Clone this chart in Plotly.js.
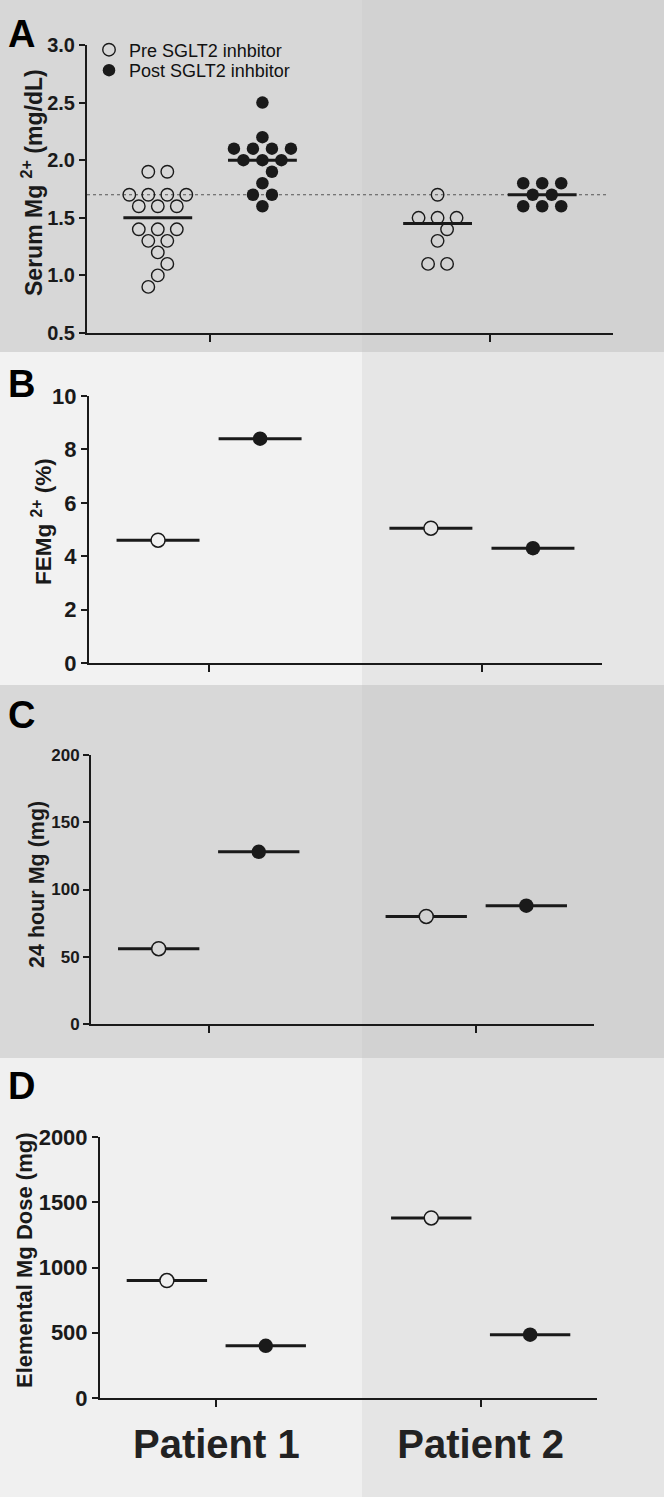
<!DOCTYPE html>
<html>
<head>
<meta charset="utf-8">
<script src="https://cdn.plot.ly/plotly-3.0.1.min.js"></script>
<style>html,body{margin:0;padding:0;background:#fff;}#chart{width:664px;height:1497px;}</style>
</head>
<body>
<div id="chart"></div>
<script>
// ---------------- DATA ----------------
const patients = ['Patient 1', 'Patient 2'];
const groupNames = ['Pre SGLT2 inhbitor', 'Post SGLT2 inhbitor'];

// Panel A: serum Mg2+ (mg/dL), individual measurements
const serumPreP1  = [1.9, 1.9, 1.7, 1.7, 1.7, 1.7, 1.6, 1.6, 1.6, 1.4, 1.4, 1.4, 1.3, 1.3, 1.2, 1.1, 1.0, 0.9];
const serumPostP1 = [2.5, 2.2, 2.1, 2.1, 2.1, 2.1, 2.0, 2.0, 2.0, 1.9, 1.8, 1.7, 1.7, 1.6];
const serumPreP2  = [1.7, 1.5, 1.5, 1.5, 1.4, 1.3, 1.1, 1.1];
const serumPostP2 = [1.8, 1.8, 1.8, 1.7, 1.7, 1.6, 1.6, 1.6];
const serumLowerLimit = 1.7;

// Panel B: FEMg2+ (%)  [Patient 1, Patient 2]
const femgPre  = [4.6, 5.05];
const femgPost = [8.4, 4.3];

// Panel C: 24 hour urine Mg (mg)
const urineMgPre  = [56, 80];
const urineMgPost = [128, 88];

// Panel D: elemental Mg dose (mg)
const doseMgPre  = [900, 1380];
const doseMgPost = [400, 485];

// Axis tick values
const ticksA = [0.5, 1.0, 1.5, 2.0, 2.5, 3.0];
const ticksB = [0, 2, 4, 6, 8, 10];
const ticksC = [0, 50, 100, 150, 200];
const ticksD = [0, 500, 1000, 1500, 2000];

// ---------------- LAYOUT HELPERS ----------------
const W = 664, H = 1497;
const px = v => v / W;
const py = v => 1 - v / H;
const XR = [0.56, 2.44];
const GROUP_OFF = 0.187;
const INK = '#1a1a1a';
const FONT = 'Liberation Sans, Arial, Helvetica, sans-serif';

const panels = [
  {id: '',  xd: [87, 613],  yd: [333, 45],    yr: [0.5, 3.0], tick: ticksA, tfs: 20, fmt: '.1f', half: 0.123},
  {id: '2', xd: [89, 602],  yd: [663, 396],   yr: [0, 10],    tick: ticksB, tfs: 22, fmt: '',    half: 0.152},
  {id: '3', xd: [91, 594],  yd: [1024, 755],  yr: [0, 200],   tick: ticksC, tfs: 17, fmt: '',    half: 0.152},
  {id: '4', xd: [100, 597], yd: [1398, 1137], yr: [0, 2000],  tick: ticksD, tfs: 22, fmt: '',    half: 0.152}
];

function median(a) {
  const s = a.slice().sort((p, q) => p - q), n = s.length;
  return n % 2 ? s[(n - 1) / 2] : (s[n / 2 - 1] + s[n / 2]) / 2;
}

// Simple column-scatter (beeswarm-like) layout of one group's points
function swarm(values, center, pxPerX, pxPerY, diam, step) {
  const rows = new Map();
  values.forEach(v => { const k = Math.round(v * 1000) / 1000; rows.set(k, (rows.get(k) || 0) + 1); });
  const keys = Array.from(rows.keys()).sort((a, b) => b - a);
  const placed = [], xs = [], ys = [];
  let flip = 1;
  keys.forEach(k => {
    const n = rows.get(k);
    let offs = Array.from({length: n}, (_, i) => (i - (n - 1) / 2) * step);
    const hits = arr => arr.some(o => placed.some(p => Math.hypot(o - p.o, (k - p.v) * pxPerY) < diam));
    if (hits(offs)) {
      const a = offs.map(o => o + flip * step / 2), b = offs.map(o => o - flip * step / 2);
      offs = !hits(a) ? a : b;
      flip = -flip;
    }
    offs.forEach(o => { placed.push({o: o, v: k}); xs.push(center + o / pxPerX); ys.push(k); });
  });
  return {xs: xs, ys: ys};
}

const traces = [];
function lineTrace(p, meds, centers) {
  const x = [], y = [];
  meds.forEach((m, i) => { x.push(centers[i] - p.half, centers[i] + p.half, null); y.push(m, m, null); });
  return {type: 'scatter', mode: 'lines', x: x, y: y, xaxis: 'x' + p.id, yaxis: 'y' + p.id,
          line: {color: INK, width: 3}, showlegend: false, hoverinfo: 'skip'};
}

// ---- Panel A ----
(function () {
  const p = panels[0];
  const pxPerX = (p.xd[1] - p.xd[0]) / (XR[1] - XR[0]);
  const pxPerY = (p.yd[0] - p.yd[1]) / (p.yr[1] - p.yr[0]);
  const sets = [[serumPreP1, serumPreP2], [serumPostP1, serumPostP2]];
  sets.forEach((grp, g) => {
    const centers = [1 + (g ? GROUP_OFF : -GROUP_OFF), 2 + (g ? GROUP_OFF : -GROUP_OFF)];
    traces.push(lineTrace(p, grp.map(median), centers));
  });
  sets.forEach((grp, g) => {
    const X = [], Y = [];
    grp.forEach((vals, i) => {
      const c = (i + 1) + (g ? GROUP_OFF : -GROUP_OFF);
      const s = swarm(vals, c, pxPerX, pxPerY, 12, 19);
      X.push(...s.xs); Y.push(...s.ys);
    });
    traces.push({type: 'scatter', mode: 'markers', x: X, y: Y, xaxis: 'x', yaxis: 'y',
      name: groupNames[g], legend: g ? 'legend2' : 'legend', showlegend: true,
      marker: g ? {symbol: 'circle', size: 12.5, color: INK}
                : {symbol: 'circle-open', size: 12.5, color: INK, line: {width: 1.4}}});
  });
})();

// ---- Panels B, C, D ----
const bgLeft  = ['#f2f2f2', '#d8d8d8', '#f0f0f0'];
const bgRight = ['#e6e6e6', '#d2d2d2', '#e5e5e5'];
[[femgPre, femgPost], [urineMgPre, urineMgPost], [doseMgPre, doseMgPost]].forEach((pair, k) => {
  const p = panels[k + 1];
  pair.forEach((vals, g) => {
    const centers = patients.map((_, i) => (i + 1) + (g ? GROUP_OFF : -GROUP_OFF));
    traces.push(lineTrace(p, vals, centers));
  });
  pair.forEach((vals, g) => {
    const centers = patients.map((_, i) => (i + 1) + (g ? GROUP_OFF : -GROUP_OFF));
    traces.push({type: 'scatter', mode: 'markers', x: centers, y: vals,
      xaxis: 'x' + p.id, yaxis: 'y' + p.id, showlegend: false, name: groupNames[g],
      marker: g ? {symbol: 'circle', size: 14.5, color: INK}
                : {symbol: 'circle', size: 14, color: [bgLeft[k], bgRight[k]], line: {width: 1.5, color: INK}}});
  });
});

// ---------------- AXES ----------------
const layout = {
  width: W, height: H, margin: {l: 0, r: 0, t: 0, b: 0},
  paper_bgcolor: '#ffffff', plot_bgcolor: 'rgba(0,0,0,0)',
  font: {family: FONT, color: INK},
  legend:  {x: px(89), y: py(50), xanchor: 'left', yanchor: 'middle', bgcolor: 'rgba(0,0,0,0)',
            font: {family: FONT, size: 18, color: '#111'}, borderwidth: 0},
  legend2: {x: px(89), y: py(70.5), xanchor: 'left', yanchor: 'middle', bgcolor: 'rgba(0,0,0,0)',
            font: {family: FONT, size: 18, color: '#111'}, borderwidth: 0},
  shapes: [], annotations: []
};

panels.forEach((p, i) => {
  const isLast = i === panels.length - 1;
  layout['xaxis' + p.id] = {
    domain: [px(p.xd[0]), px(p.xd[1])], range: XR, anchor: 'y' + p.id,
    tickmode: 'array', tickvals: [1, 2], ticktext: patients,
    showticklabels: isLast, ticks: 'outside', ticklen: 7, tickwidth: 2, tickcolor: INK,
    showline: true, linewidth: 2, linecolor: INK, showgrid: false, zeroline: false,
    tickfont: {family: FONT, size: 40, weight: 'bold', color: '#222'}, ticklabelstandoff: 3,
    fixedrange: true
  };
  layout['yaxis' + p.id] = {
    domain: [py(p.yd[0]), py(p.yd[1])], range: p.yr, anchor: 'x' + p.id,
    tickmode: 'array', tickvals: p.tick, tickformat: p.fmt,
    ticks: 'outside', ticklen: 6, tickwidth: 2, tickcolor: INK,
    showline: true, linewidth: 2, linecolor: INK, showgrid: false, zeroline: false,
    tickfont: {family: FONT, size: p.tfs, weight: 'bold', color: INK}, fixedrange: true
  };
});

// Panel backgrounds
const bands = [
  {y0: 0,    y1: 352,  l: '#d7d7d7', r: '#d2d2d2'},
  {y0: 352,  y1: 685,  l: '#f2f2f2', r: '#e6e6e6'},
  {y0: 685,  y1: 1058, l: '#d8d8d8', r: '#d2d2d2'},
  {y0: 1058, y1: 1497, l: '#f0f0f0', r: '#e5e5e5'}
];
bands.forEach(b => {
  layout.shapes.push({type: 'rect', xref: 'paper', yref: 'paper', x0: 0, x1: px(362), y0: py(b.y1), y1: py(b.y0),
                      fillcolor: b.l, line: {width: 0}, layer: 'below'});
  layout.shapes.push({type: 'rect', xref: 'paper', yref: 'paper', x0: px(362), x1: 1, y0: py(b.y1), y1: py(b.y0),
                      fillcolor: b.r, line: {width: 0}, layer: 'below'});
});
// Reference line (lower limit of normal serum Mg)
layout.shapes.push({type: 'line', xref: 'x domain', yref: 'y', x0: 0, x1: 0.99, y0: serumLowerLimit, y1: serumLowerLimit,
                    line: {color: '#555', width: 1.2, dash: 'dot'}, layer: 'below'});

// Panel letters
[['A', 34], ['B', 384], ['C', 715], ['D', 1086]].forEach(([t, y]) => {
  layout.annotations.push({text: '<b>' + t + '</b>', xref: 'paper', yref: 'paper', x: px(6), y: py(y),
    xanchor: 'left', yanchor: 'middle', showarrow: false, font: {family: FONT, size: 38, color: '#000'}});
});

// Y-axis titles
[
  ['Serum Mg <sup>2+</sup> (mg/dL)', 32, 183, 23],
  ['FEMg <sup>2+</sup> (%)', 42, 522, 22.5],
  ['24 hour Mg (mg)', 37, 885, 21.5],
  ['Elemental Mg Dose (mg)', 24, 1261, 22]
].forEach(([t, x, y, s]) => {
  layout.annotations.push({text: '<b>' + t + '</b>', xref: 'paper', yref: 'paper', x: px(x), y: py(y),
    xanchor: 'center', yanchor: 'middle', textangle: -90, showarrow: false,
    font: {family: FONT, size: s, color: INK}});
});

Plotly.newPlot('chart', traces, layout, {staticPlot: true, displayModeBar: false});
</script>
</body>
</html>
